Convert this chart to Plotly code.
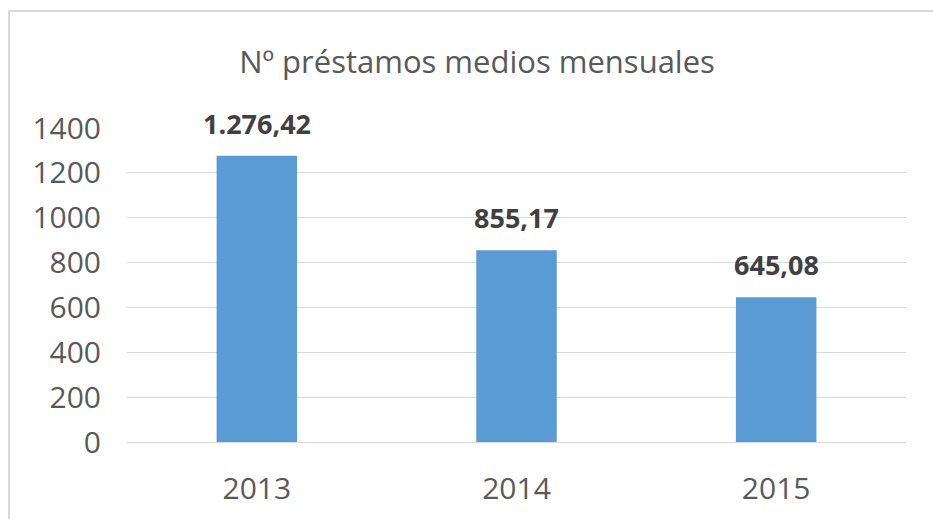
import plotly.graph_objects as go

years = ["2013", "2014", "2015"]
loans = [1276.42, 855.17, 645.08]
y_ticks = [0, 200, 400, 600, 800, 1000, 1200, 1400]


def es_format(v):
    s = f"{v:,.2f}"
    return s.replace(",", "X").replace(".", ",").replace("X", ".")


FONT = "Open Sans"
BLUE = "#5B9BD5"
GRID = "#D9D9D9"

fig = go.Figure(
    go.Bar(x=years, y=loans, marker=dict(color=BLUE, line=dict(width=0)), hoverinfo="skip")
)

# value labels above each bar (x given as category index)
for i, v in enumerate(loans):
    fig.add_annotation(
        x=i, y=v, text=f"<b>{es_format(v)}</b>", showarrow=False,
        yanchor="bottom", yshift=12,
        font=dict(family=FONT, size=27, color="#404040"),
    )

# chart frame
fig.add_shape(
    type="rect", xref="paper", yref="paper",
    x0=(9 - 127) / 779, x1=1.2, y0=-0.5, y1=1 + (128 - 11) / 314,
    line=dict(color=GRID, width=2), fillcolor="rgba(0,0,0,0)", layer="below",
)

fig.update_layout(
    width=933, height=519,
    margin=dict(l=127, r=27, t=128, b=77, autoexpand=False),
    paper_bgcolor="white", plot_bgcolor="white",
    bargap=0.69, showlegend=False,
    title=dict(
        text="Nº préstamos medios mensuales",
        x=477 / 933, xanchor="center", y=1 - 62 / 519, yanchor="middle",
        font=dict(family=FONT, size=31, color="#595959"),
    ),
    font=dict(family=FONT, color="#595959"),
)
fig.update_yaxes(
    range=[0, 1400], tickvals=y_ticks, showgrid=True, gridcolor=GRID, gridwidth=1,
    zeroline=True, zerolinecolor=GRID, zerolinewidth=1,
    ticks="outside", ticklen=19, tickcolor="rgba(0,0,0,0)",
    tickfont=dict(family=FONT, size=30, color="#595959"),
    showline=False, automargin=False,
)
fig.update_xaxes(
    type="category", range=[-0.5, 2.5], showgrid=False, showline=False, zeroline=False,
    ticks="outside", ticklen=20, tickcolor="rgba(0,0,0,0)",
    tickfont=dict(family=FONT, size=30, color="#595959"),
    automargin=False,
)

fig.write_html("out.html")
